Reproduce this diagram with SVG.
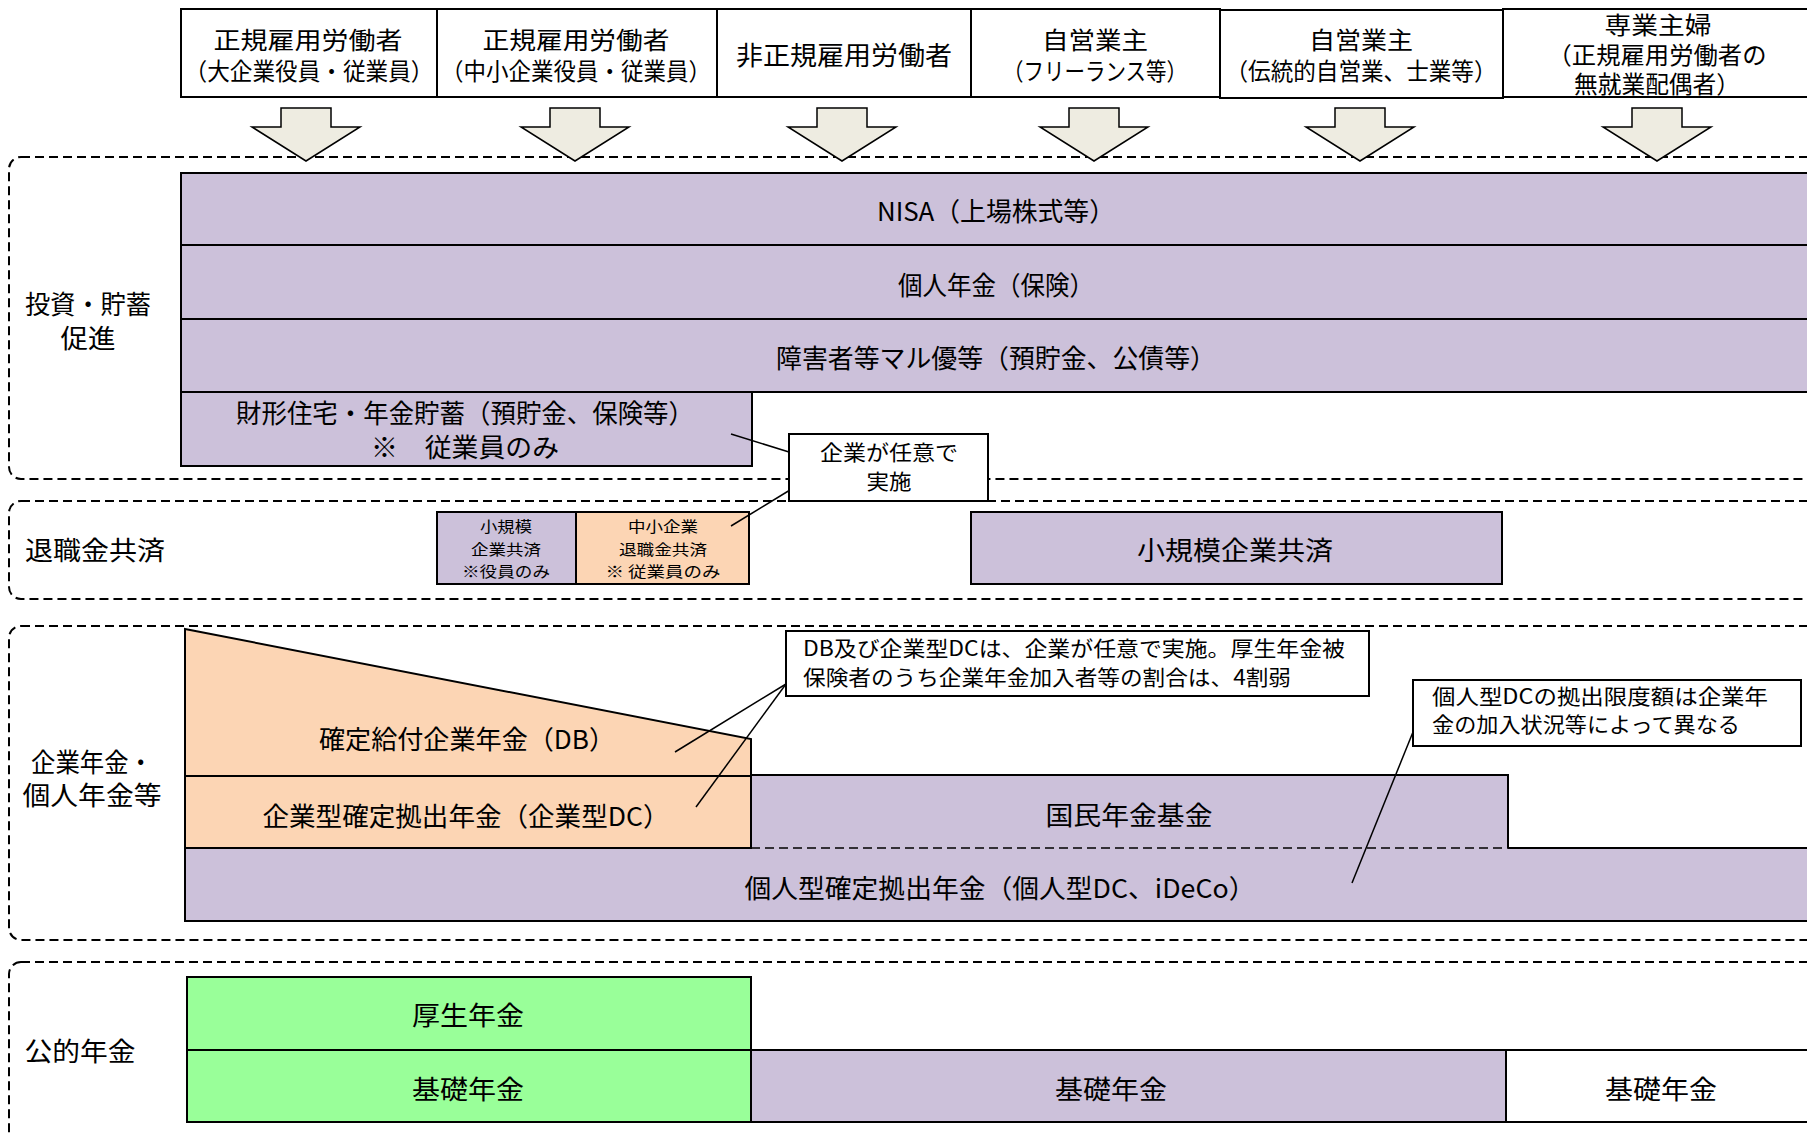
<svg xmlns="http://www.w3.org/2000/svg" width="1807" height="1135" viewBox="0 0 1807 1135">
<style>
text{font-family:"Noto Sans CJK JP","Noto Sans",sans-serif;fill:#000;dominant-baseline:central;text-anchor:middle;transform:translateY(-2px)}
.h{font-size:24px}
.h1{font-size:26px}
.b{font-size:26px}
.c{font-size:21px}
.s{font-size:15px}
.l{font-size:26px}
.sec{fill:none;stroke:#000;stroke-width:2;stroke-dasharray:9 5}
.box{stroke:#000;stroke-width:2}
.lav{fill:#ccc1da}
.pea{fill:#fcd5b4}
.grn{fill:#99ff99}
.wht{fill:#fff}
.arr{fill:#eeece1;stroke:#000;stroke-width:1.5}
.ln{fill:none;stroke:#000;stroke-width:1.5}
</style>
<defs>
<polygon id="darr" points="-25,0 25,0 25,19 54,19 0,53 -54,19 -25,19"/>
</defs>
<rect width="1807" height="1135" fill="#fff"/>

<!-- sections -->
<g id="sections">
<rect class="sec" x="9" y="157" width="1860" height="322" rx="12"/>
<rect class="sec" x="9" y="501" width="1860" height="98" rx="12"/>
<rect class="sec" x="9" y="626" width="1860" height="314" rx="12"/>
<rect class="sec" x="9" y="962" width="1860" height="220" rx="12"/>
</g>

<!-- header -->
<g id="h1"><rect class="box wht" x="181" y="9" width="256" height="88"/>
<text class="h" x="308" y="40" textLength="189" lengthAdjust="spacingAndGlyphs">正規雇用労働者</text>
<text class="h" x="309" y="71" textLength="249" lengthAdjust="spacingAndGlyphs">（大企業役員・従業員）</text></g>
<g id="h2"><rect class="box wht" x="437" y="9" width="280" height="88"/>
<text class="h" x="576" y="40" textLength="187" lengthAdjust="spacingAndGlyphs">正規雇用労働者</text>
<text class="h" x="576" y="71" textLength="270" lengthAdjust="spacingAndGlyphs">（中小企業役員・従業員）</text></g>
<g id="h3"><rect class="box wht" x="717" y="9" width="254" height="88"/>
<text class="h1" x="844" y="55" textLength="216" lengthAdjust="spacingAndGlyphs">非正規雇用労働者</text></g>
<g id="h4"><rect class="box wht" x="971" y="9" width="249" height="88"/>
<text class="h" x="1095" y="40" textLength="106" lengthAdjust="spacingAndGlyphs">自営業主</text>
<text class="h" x="1095" y="71" textLength="184" lengthAdjust="spacingAndGlyphs">（フリーランス等）</text></g>
<g id="h5"><rect class="box wht" x="1220" y="10" width="283" height="88"/>
<text class="h" x="1361" y="40" textLength="104" lengthAdjust="spacingAndGlyphs">自営業主</text>
<text class="h" x="1361" y="71" textLength="271" lengthAdjust="spacingAndGlyphs">（伝統的自営業、士業等）</text></g>
<g id="h6"><rect class="box wht" x="1503" y="9" width="330" height="88"/>
<text class="h" x="1658" y="25" textLength="107" lengthAdjust="spacingAndGlyphs">専業主婦</text>
<text class="h" x="1657" y="55" textLength="219" lengthAdjust="spacingAndGlyphs">（正規雇用労働者の</text>
<text class="h" x="1657" y="84" textLength="166" lengthAdjust="spacingAndGlyphs">無就業配偶者）</text></g>

<!-- arrows -->
<g id="arrows">
<use href="#darr" class="arr" x="306" y="108"/>
<use href="#darr" class="arr" x="575" y="108"/>
<use href="#darr" class="arr" x="842" y="108"/>
<use href="#darr" class="arr" x="1094" y="108"/>
<use href="#darr" class="arr" x="1360" y="108"/>
<use href="#darr" class="arr" x="1657" y="108"/>
</g>

<!-- left labels -->
<g id="labels">
<text class="l" x="88" y="304" textLength="126" lengthAdjust="spacingAndGlyphs">投資・貯蓄</text>
<text class="l" x="88" y="338" textLength="55" lengthAdjust="spacingAndGlyphs">促進</text>
<text class="l" x="95" y="550" textLength="140" lengthAdjust="spacingAndGlyphs">退職金共済</text>
<text class="l" x="92" y="762" textLength="122" lengthAdjust="spacingAndGlyphs">企業年金・</text>
<text class="l" x="92" y="795" textLength="139" lengthAdjust="spacingAndGlyphs">個人年金等</text>
<text class="l" x="80" y="1051" textLength="111" lengthAdjust="spacingAndGlyphs">公的年金</text>
</g>

<!-- section 1 -->
<g id="nisa"><rect class="box lav" x="181" y="173" width="1650" height="72"/>
<text class="b" x="996" y="211" textLength="238" lengthAdjust="spacingAndGlyphs">NISA（上場株式等）</text></g>
<g id="kojin-nenkin"><rect class="box lav" x="181" y="245" width="1650" height="74"/>
<text class="b" x="996" y="285" textLength="196" lengthAdjust="spacingAndGlyphs">個人年金（保険）</text></g>
<g id="maruyu"><rect class="box lav" x="181" y="319" width="1650" height="73"/>
<text class="b" x="996" y="358" textLength="440" lengthAdjust="spacingAndGlyphs">障害者等マル優等（預貯金、公債等）</text></g>
<g id="zaikei"><rect class="box lav" x="181" y="392" width="571" height="74"/>
<text class="b" x="465" y="413" textLength="458" lengthAdjust="spacingAndGlyphs">財形住宅・年金貯蓄（預貯金、保険等）</text>
<text class="b" x="465" y="447" textLength="188" lengthAdjust="spacingAndGlyphs">※　従業員のみ</text></g>

<!-- section 2 -->
<g id="shokibo-small"><rect class="box lav" x="437" y="512" width="139" height="72"/>
<text class="s" x="506" y="527" textLength="52" lengthAdjust="spacingAndGlyphs">小規模</text>
<text class="s" x="506" y="550" textLength="70" lengthAdjust="spacingAndGlyphs">企業共済</text>
<text class="s" x="506" y="572" textLength="88" lengthAdjust="spacingAndGlyphs">※役員のみ</text></g>
<g id="chutaikyo"><rect class="box pea" x="576" y="512" width="173" height="72"/>
<text class="s" x="663" y="527" textLength="70" lengthAdjust="spacingAndGlyphs">中小企業</text>
<text class="s" x="663" y="550" textLength="88" lengthAdjust="spacingAndGlyphs">退職金共済</text>
<text class="s" x="663" y="572" textLength="115" lengthAdjust="spacingAndGlyphs">※ 従業員のみ</text></g>
<g id="shokibo-big"><rect class="box lav" x="971" y="512" width="531" height="72"/>
<text class="b" x="1235" y="550" textLength="196" lengthAdjust="spacingAndGlyphs">小規模企業共済</text></g>

<!-- section 3 -->
<g id="db"><polygon class="box pea" points="185,629 751,739 751,776 185,776"/>
<text class="b" x="467" y="739" textLength="296" lengthAdjust="spacingAndGlyphs">確定給付企業年金（DB）</text></g>
<g id="dc"><rect class="box pea" x="185" y="776" width="566" height="72"/>
<text class="b" x="466" y="816" textLength="407" lengthAdjust="spacingAndGlyphs">企業型確定拠出年金（企業型DC）</text></g>
<g id="ideco"><rect class="lav" x="185" y="848" width="1650" height="73"/>
<path class="ln" style="stroke-width:2" d="M185,848 V921 H1835 M1508,848 H1835"/>
<text class="b" x="1000" y="888" textLength="511" lengthAdjust="spacingAndGlyphs">個人型確定拠出年金（個人型DC、iDeCo）</text></g>
<g id="kikin"><rect class="lav" x="751" y="775" width="757" height="73"/>
<path class="ln" style="stroke-width:2" d="M751,776 V775 H1508 V848"/>
<path class="ln" style="stroke-dasharray:9 5" d="M751,848 H1508"/>
<text class="b" x="1129" y="815" textLength="167" lengthAdjust="spacingAndGlyphs">国民年金基金</text></g>
<path class="ln" style="stroke-width:2" d="M185,776 H751 V848 H185 Z"/>

<!-- section 4 -->
<g id="kosei"><rect class="box grn" x="187" y="977" width="564" height="73"/>
<text class="b" x="468" y="1015" textLength="112" lengthAdjust="spacingAndGlyphs">厚生年金</text></g>
<g id="kiso1"><rect class="box grn" x="187" y="1050" width="564" height="72"/>
<text class="b" x="468" y="1089" textLength="112" lengthAdjust="spacingAndGlyphs">基礎年金</text></g>
<g id="kiso2"><rect class="box lav" x="751" y="1050" width="755" height="72"/>
<text class="b" x="1111" y="1089" textLength="112" lengthAdjust="spacingAndGlyphs">基礎年金</text></g>
<g id="kiso3"><rect class="box wht" x="1506" y="1050" width="330" height="72"/>
<text class="b" x="1661" y="1089" textLength="112" lengthAdjust="spacingAndGlyphs">基礎年金</text></g>

<!-- connectors -->
<g id="connectors">
<path class="ln" d="M731,434 L789,452"/>
<path class="ln" d="M731,526 L790,490"/>
<path class="ln" d="M786,684 L675,752"/>
<path class="ln" d="M786,684 L696,807"/>
<path class="ln" d="M1413,732 L1352,883"/>
</g>

<!-- callouts -->
<g id="callout-nini"><rect class="box wht" x="789" y="434" width="199" height="67"/>
<text class="c" x="889" y="453" textLength="138" lengthAdjust="spacingAndGlyphs">企業が任意で</text>
<text class="c" x="889" y="482" textLength="45" lengthAdjust="spacingAndGlyphs">実施</text></g>
<g id="callout-db"><rect class="box wht" x="786" y="631" width="583" height="65"/>
<text class="c" x="803" y="649" style="text-anchor:start" textLength="542" lengthAdjust="spacingAndGlyphs">DB及び企業型DCは、企業が任意で実施。厚生年金被</text>
<text class="c" x="803" y="678" style="text-anchor:start" textLength="488" lengthAdjust="spacingAndGlyphs">保険者のうち企業年金加入者等の割合は、4割弱</text></g>
<g id="callout-ideco"><rect class="box wht" x="1413" y="680" width="388" height="66"/>
<text class="c" x="1432" y="697" style="text-anchor:start" textLength="336" lengthAdjust="spacingAndGlyphs">個人型DCの拠出限度額は企業年</text>
<text class="c" x="1432" y="725" style="text-anchor:start" textLength="308" lengthAdjust="spacingAndGlyphs">金の加入状況等によって異なる</text></g>
</svg>
